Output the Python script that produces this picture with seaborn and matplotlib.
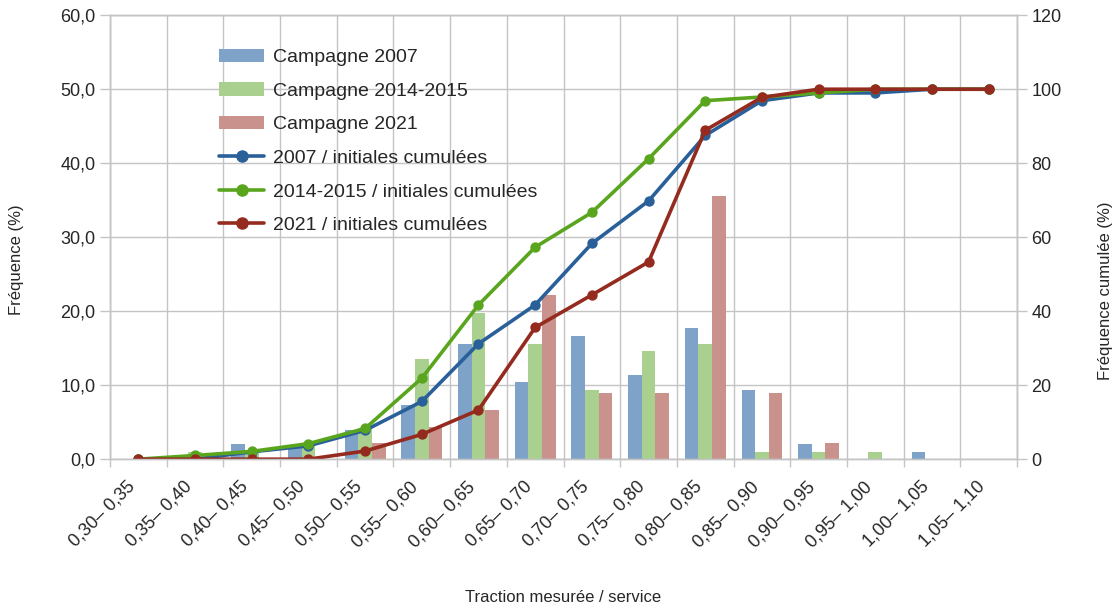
import numpy as np
import pandas as pd
import seaborn as sns
import matplotlib.pyplot as plt
from matplotlib.lines import Line2D
from matplotlib.patches import Patch
from matplotlib.transforms import ScaledTranslation

# categories (classes of traction mesurée / service)
classes = ["0,30– 0,35", "0,35– 0,40", "0,40– 0,45", "0,45– 0,50", "0,50– 0,55",
           "0,55– 0,60", "0,60– 0,65", "0,65– 0,70", "0,70– 0,75", "0,75– 0,80",
           "0,80– 0,85", "0,85– 0,90", "0,90– 0,95", "0,95– 1,00", "1,00– 1,05",
           "1,05– 1,10"]

# frequencies (%) - left axis
freq_2007 = [0, 0, 2.0, 1.5, 4.0, 7.3, 15.5, 10.4, 16.6, 11.4, 17.7, 9.4, 2.0, 0, 1.0, 0]
freq_2014 = [0, 1.0, 1.0, 2.1, 4.2, 13.5, 19.8, 15.6, 9.4, 14.6, 15.6, 1.0, 1.0, 1.0, 0, 0]
freq_2021 = [0, 0, 0, 0, 2.2, 4.4, 6.7, 22.2, 8.9, 8.9, 35.6, 8.9, 2.2, 0, 0, 0]

# cumulative frequencies (%) - right axis
cum_2007 = [0, 0, 2.0, 3.6, 7.8, 15.6, 31.2, 41.7, 58.3, 69.8, 87.5, 96.9, 99.0, 99.0, 100, 100]
cum_2014 = [0, 1.0, 2.1, 4.2, 8.3, 21.9, 41.7, 57.3, 66.7, 81.2, 96.9, 97.9, 99.0, 100, 100, 100]
cum_2021 = [0, 0, 0, 0, 2.2, 6.7, 13.3, 35.6, 44.4, 53.3, 88.9, 97.8, 100, 100, 100, 100]

bar_names = ["Campagne 2007", "Campagne 2014-2015", "Campagne 2021"]
line_names = ["2007 / initiales cumulées", "2014-2015 / initiales cumulées", "2021 / initiales cumulées"]

bar_colors = ["#7ea2c8", "#a9d08e", "#c9928d"]
line_colors = ["#2a6099", "#5aa51e", "#952b1f"]

df_bars = pd.DataFrame({
    "classe": classes * 3,
    "campagne": np.repeat(bar_names, len(classes)),
    "freq": freq_2007 + freq_2014 + freq_2021,
})
df_cum = pd.DataFrame({
    "classe": classes * 3,
    "serie": np.repeat(line_names, len(classes)),
    "cum": cum_2007 + cum_2014 + cum_2021,
})

sns.set_theme(style="white")
plt.rcParams["font.family"] = ["Liberation Sans", "DejaVu Sans"]

fig = plt.figure(figsize=(11.16, 6.09), dpi=100)
ax = fig.add_axes([0.0986, 0.246, 0.8127, 0.729])

grid_c = "#c4c4c4"

sns.barplot(data=df_bars, x="classe", y="freq", hue="campagne", order=classes,
            hue_order=bar_names, palette=bar_colors, width=0.72, saturation=1,
            linewidth=0, legend=False, ax=ax, zorder=2)

ax2 = ax.twinx()
sns.pointplot(data=df_cum, x="classe", y="cum", hue="serie", order=classes,
              hue_order=line_names, palette=line_colors, markers="o",
              markersize=5.5, linewidth=2.6, errorbar=None, legend=False, ax=ax2)

ax.set_xlim(-0.5, len(classes) - 0.5)
ax.set_ylim(0, 60)
ax2.set_ylim(0, 120)

ax.set_yticks(range(0, 61, 10))
ax.set_yticklabels([f"{v:.1f}".replace(".", ",") for v in range(0, 61, 10)])
ax2.set_yticks(range(0, 121, 20))

ax.set_xticks(range(len(classes)))
ax.set_xticklabels(classes, rotation=45, ha="right", va="center", rotation_mode="anchor")
ax.set_xticks(np.arange(-0.5, len(classes), 1), minor=True)
ax.tick_params(axis="x", which="major", length=0, pad=18, labelsize=13)
ax.tick_params(axis="x", which="minor", length=6, color=grid_c, width=1, bottom=True)
ax.tick_params(axis="y", which="major", length=7, color=grid_c, width=1, left=True, labelsize=13)
ax2.tick_params(axis="y", length=7, color=grid_c, width=1, right=True, labelsize=13)
for lab in ax.get_xticklabels():
    lab.set_transform(lab.get_transform() + ScaledTranslation(-0.06, 0, fig.dpi_scale_trans))

ax.grid(True, axis="y", which="major", color=grid_c, lw=1)
ax.grid(True, axis="x", which="minor", color=grid_c, lw=1)
ax.set_axisbelow(True)
ax2.grid(False)

for a in (ax, ax2):
    for s in a.spines.values():
        s.set_color(grid_c)
        s.set_linewidth(1)

ax.set_xlabel("Traction mesurée / service", fontsize=12)
ax.xaxis.set_label_coords(0.5, -0.295)
ax.set_ylabel("Fréquence (%)", fontsize=12)
ax.yaxis.set_label_coords(-0.095, 0.45)
ax2.set_ylabel("Fréquence cumulée (%)", fontsize=12)
ax2.yaxis.set_label_coords(1.089, 0.38)

handles = [Patch(facecolor=c, edgecolor="none") for c in bar_colors]
handles += [Line2D([], [], color=c, lw=2.6, marker="o", markersize=8) for c in line_colors]
ax2.legend(handles, bar_names + line_names, loc="upper left", bbox_to_anchor=(0.112, 0.942),
           frameon=False, fontsize=14, handlelength=2.3, handletextpad=0.45,
           labelspacing=0.82, borderaxespad=0)

fig.savefig("out.png", dpi=100)
